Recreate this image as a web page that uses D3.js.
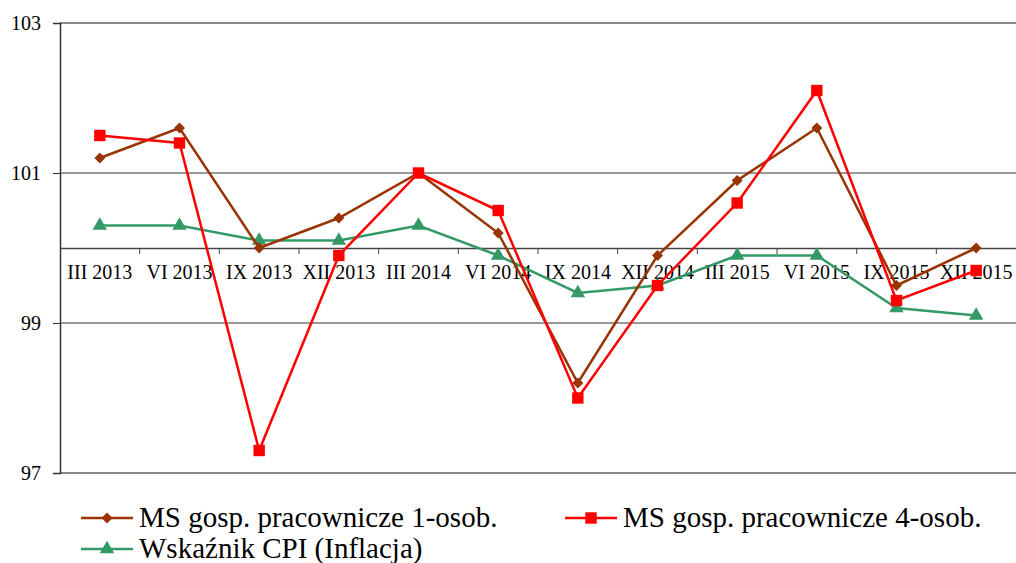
<!DOCTYPE html>
<html>
<head>
<meta charset="utf-8">
<script src="https://cdn.jsdelivr.net/npm/d3@7"></script>
<style>
  body { margin: 0; background: #fff; }
  svg { display: block; }
  svg text { font-family: "Liberation Serif", "Times New Roman", serif; }
</style>
</head>
<body>
<div id="chart"></div>
<script>
// categories and series values
var categories = ["III 2013", "VI 2013", "IX 2013", "XII 2013", "III 2014", "VI 2014",
                  "IX 2014", "XII 2014", "III 2015", "VI 2015", "IX 2015", "XII 2015"];
var ms1 = [101.2, 101.6, 100.0, 100.4, 101.0, 100.2, 98.2, 99.9, 100.9, 101.6, 99.5, 100.0];
var ms4 = [101.5, 101.4, 97.3, 99.9, 101.0, 100.5, 98.0, 99.5, 100.6, 102.1, 99.3, 99.7];
var cpi = [100.3, 100.3, 100.1, 100.1, 100.3, 99.9, 99.4, 99.5, 99.9, 99.9, 99.2, 99.1];
var yTicks = [97, 99, 101, 103];
var seriesNames = ["MS gosp. pracownicze 1-osob.", "MS gosp. pracownicze 4-osob.", "Wskaźnik CPI (Inflacja)"];

var width = 1016, height = 563;
var margin = { left: 60, right: 0, top: 23, bottom: 90 };

var svg = d3.select("#chart").append("svg")
  .attr("width", width).attr("height", height);

var x = d3.scaleBand()
  .domain(categories)
  .range([margin.left, width - margin.right]);

var y = d3.scaleLinear()
  .domain([97, 103])
  .range([height - margin.bottom, margin.top]);

// horizontal gridlines
svg.append("g").selectAll("line")
  .data(yTicks).enter()
  .append("line")
  .attr("x1", margin.left).attr("x2", width)
  .attr("y1", function(d){ return y(d); })
  .attr("y2", function(d){ return y(d); })
  .attr("stroke", function(d){ return (d == 97 || d == 103) ? "#888" : "#333"; })
  .attr("stroke-width", function(d){ return (d == 97 || d == 103) ? 2 : 1; });

// y axis
var yAxis = svg.append("g")
  .attr("transform", "translate(" + margin.left + ",0)")
  .call(d3.axisLeft(y).tickValues(yTicks).tickFormat(d3.format("d")).tickSize(7).tickPadding(12));
yAxis.attr("font-family", null);
yAxis.select(".domain").attr("stroke", "#333").attr("stroke-width", 1.5);
yAxis.selectAll(".tick line").attr("stroke", "#333");
yAxis.selectAll("text")
  .attr("font-size", 20).attr("fill", "#000");

// x axis crossing at 100
var xAxis = svg.append("g")
  .attr("transform", "translate(0," + y(100) + ")")
  .call(d3.axisBottom(x).tickSize(0).tickPadding(17));
xAxis.attr("font-family", null);
xAxis.select(".domain").attr("stroke", "#444").attr("stroke-width", 1.5);
xAxis.selectAll("text")
  .attr("font-size", 20).attr("fill", "#000");
// tick marks between categories
xAxis.selectAll(".sep")
  .data(categories.slice(1)).enter()
  .append("line").attr("class", "sep")
  .attr("x1", function(d){ return x(d); })
  .attr("x2", function(d){ return x(d); })
  .attr("y1", 0).attr("y2", 6)
  .attr("stroke", "#444").attr("stroke-width", 1);

var series = [
  { name: seriesNames[0], values: ms1, color: "#993300", symbol: d3.symbolSquare, size: 60, rot: 45 },
  { name: seriesNames[1], values: ms4, color: "#ff0000", symbol: d3.symbolSquare, size: 130, rot: 0 },
  { name: seriesNames[2], values: cpi, color: "#339966", symbol: d3.symbolTriangle, size: 90, rot: 0 }
];

var line = d3.line()
  .x(function(d, i){ return x(categories[i]) + x.bandwidth() / 2; })
  .y(function(d){ return y(d); });

// draw in order: green, brown, red on top
[series[2], series[0], series[1]].forEach(function(s) {
  var g = svg.append("g");
  g.append("path")
    .datum(s.values)
    .attr("d", line)
    .attr("fill", "none")
    .attr("stroke", s.color)
    .attr("stroke-width", 2.5);
  g.selectAll("path.mark")
    .data(s.values).enter()
    .append("path").attr("class", "mark")
    .attr("d", d3.symbol().type(s.symbol).size(s.size))
    .attr("transform", function(d, i){
      return "translate(" + (x(categories[i]) + x.bandwidth() / 2) + "," + y(d) + ") rotate(" + s.rot + ")";
    })
    .attr("fill", s.color);
});

// legend
var legendPos = [[81, 518], [565, 518], [81, 549]];
series.forEach(function(s, i) {
  var lg = svg.append("g")
    .attr("transform", "translate(" + legendPos[i][0] + "," + legendPos[i][1] + ")");
  lg.append("line")
    .attr("x1", 0).attr("x2", 52)
    .attr("stroke", s.color).attr("stroke-width", 2.5);
  lg.append("path")
    .attr("d", d3.symbol().type(s.symbol).size(s.size))
    .attr("transform", "translate(26,0) rotate(" + s.rot + ")")
    .attr("fill", s.color);
  lg.append("text")
    .attr("x", 58).attr("y", 9)
    .attr("font-size", 29)
    .attr("fill", "#000")
    .text(s.name);
});
</script>
</body>
</html>
